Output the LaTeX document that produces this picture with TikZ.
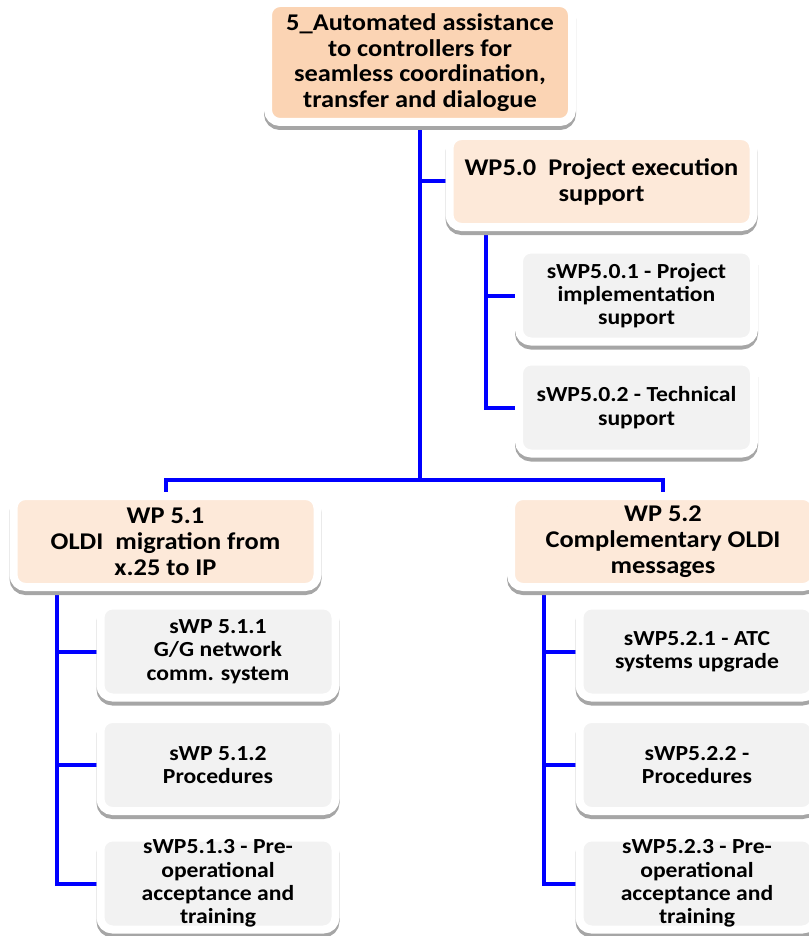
\documentclass[tikz,border=0pt]{standalone}
\usepackage{fontspec}
\setmainfont{Carlito}[FakeStretch=1.1]
\usetikzlibrary{backgrounds}

\definecolor{toppeach}{HTML}{FBD4B4}
\definecolor{wppeach}{HTML}{FDE9D9}
\definecolor{subgray}{HTML}{F2F2F2}
\definecolor{shadowgray}{HTML}{A6A6A6}

\tikzset{
  card/.style={rounded corners=12pt, draw=white, line width=8pt, inner sep=0pt, align=center,
    preaction={fill=shadowgray, draw=shadowgray, line width=8pt, transform canvas={yshift=-4pt}}},
  topbox/.style={card, fill=toppeach, minimum width=304pt, minimum height=119pt,
    font=\bfseries\fontsize{24}{25.5}\selectfont},
  wpbox/.style={card, fill=wppeach, minimum width=304pt, minimum height=91pt,
    font=\bfseries\fontsize{24}{26}\selectfont},
  subbox/.style={card, fill=subgray, minimum width=235pt, minimum height=92pt,
    font=\bfseries\fontsize{21.5}{23.3}\selectfont},
  link/.style={blue, line width=4pt}
}

\begin{document}
\begin{tikzpicture}[x=1pt,y=-1pt]
        \useasboundingbox (0,0) rectangle (808,936);

        % Top of the tree
        \node[topbox] (wp5) at (420,62.5) {5\_Automated assistance\\to controllers for\\seamless coordination,\\transfer and dialogue};
        \coordinate (split) at (420,480);

        % WP5.0
        \node[wpbox] (wp50) at (601.5,181.5) {WP5.0\ \ Project execution\\support};
        \node[subbox] (s501) at (636.5,295.5) {sWP5.0.1 - Project\\implementation\\support};
        \node[subbox] (s502) at (636.5,407.5) {sWP5.0.2 - Technical\\support};

        % WP 5.1
        \node[wpbox] (wp51) at (165.5,541.5) {WP 5.1\\OLDI\ \ migration from\\x.25 to IP};
        \node[subbox] (s511) at (218,651.5) {sWP 5.1.1\\G/G network\\comm. system};
        \node[subbox] (s512) at (218,765) {sWP 5.1.2\\Procedures};
        \node[subbox] (s513) at (218,883.5) {sWP5.1.3 - Pre-\\operational\\acceptance and\\training};

        % WP 5.2
        \node[wpbox] (wp52) at (663,541.5) {WP 5.2\\Complementary OLDI\\messages};
        \node[subbox] (s521) at (697,651.5) {sWP5.2.1 - ATC\\systems upgrade};
        \node[subbox] (s522) at (697,765) {sWP5.2.2 -\\Procedures};
        \node[subbox] (s523) at (697,883.5) {sWP5.2.3 - Pre-\\operational\\acceptance and\\training};

        % Links
        \begin{scope}[on background layer]
          \draw[link] (wp5.south) -- (split);
          \draw[link] (wp5.south |- wp50.west) -- (wp50.west);
          \draw[link] (wp51.north) |- (split) -| (wp52.north);
          \draw[link] ([xshift=40pt]wp50.south west) |- (s501.west);
          \draw[link] ([xshift=40pt]wp50.south west) |- (s502.west);
          \draw[link] ([xshift=47.5pt]wp51.south west) |- (s511.west);
          \draw[link] ([xshift=47.5pt]wp51.south west) |- (s512.west);
          \draw[link] ([xshift=47.5pt]wp51.south west) |- (s513.west);
          \draw[link] ([xshift=36.5pt]wp52.south west) |- (s521.west);
          \draw[link] ([xshift=36.5pt]wp52.south west) |- (s522.west);
          \draw[link] ([xshift=36.5pt]wp52.south west) |- (s523.west);
        \end{scope}
      \end{tikzpicture}
\end{document}
